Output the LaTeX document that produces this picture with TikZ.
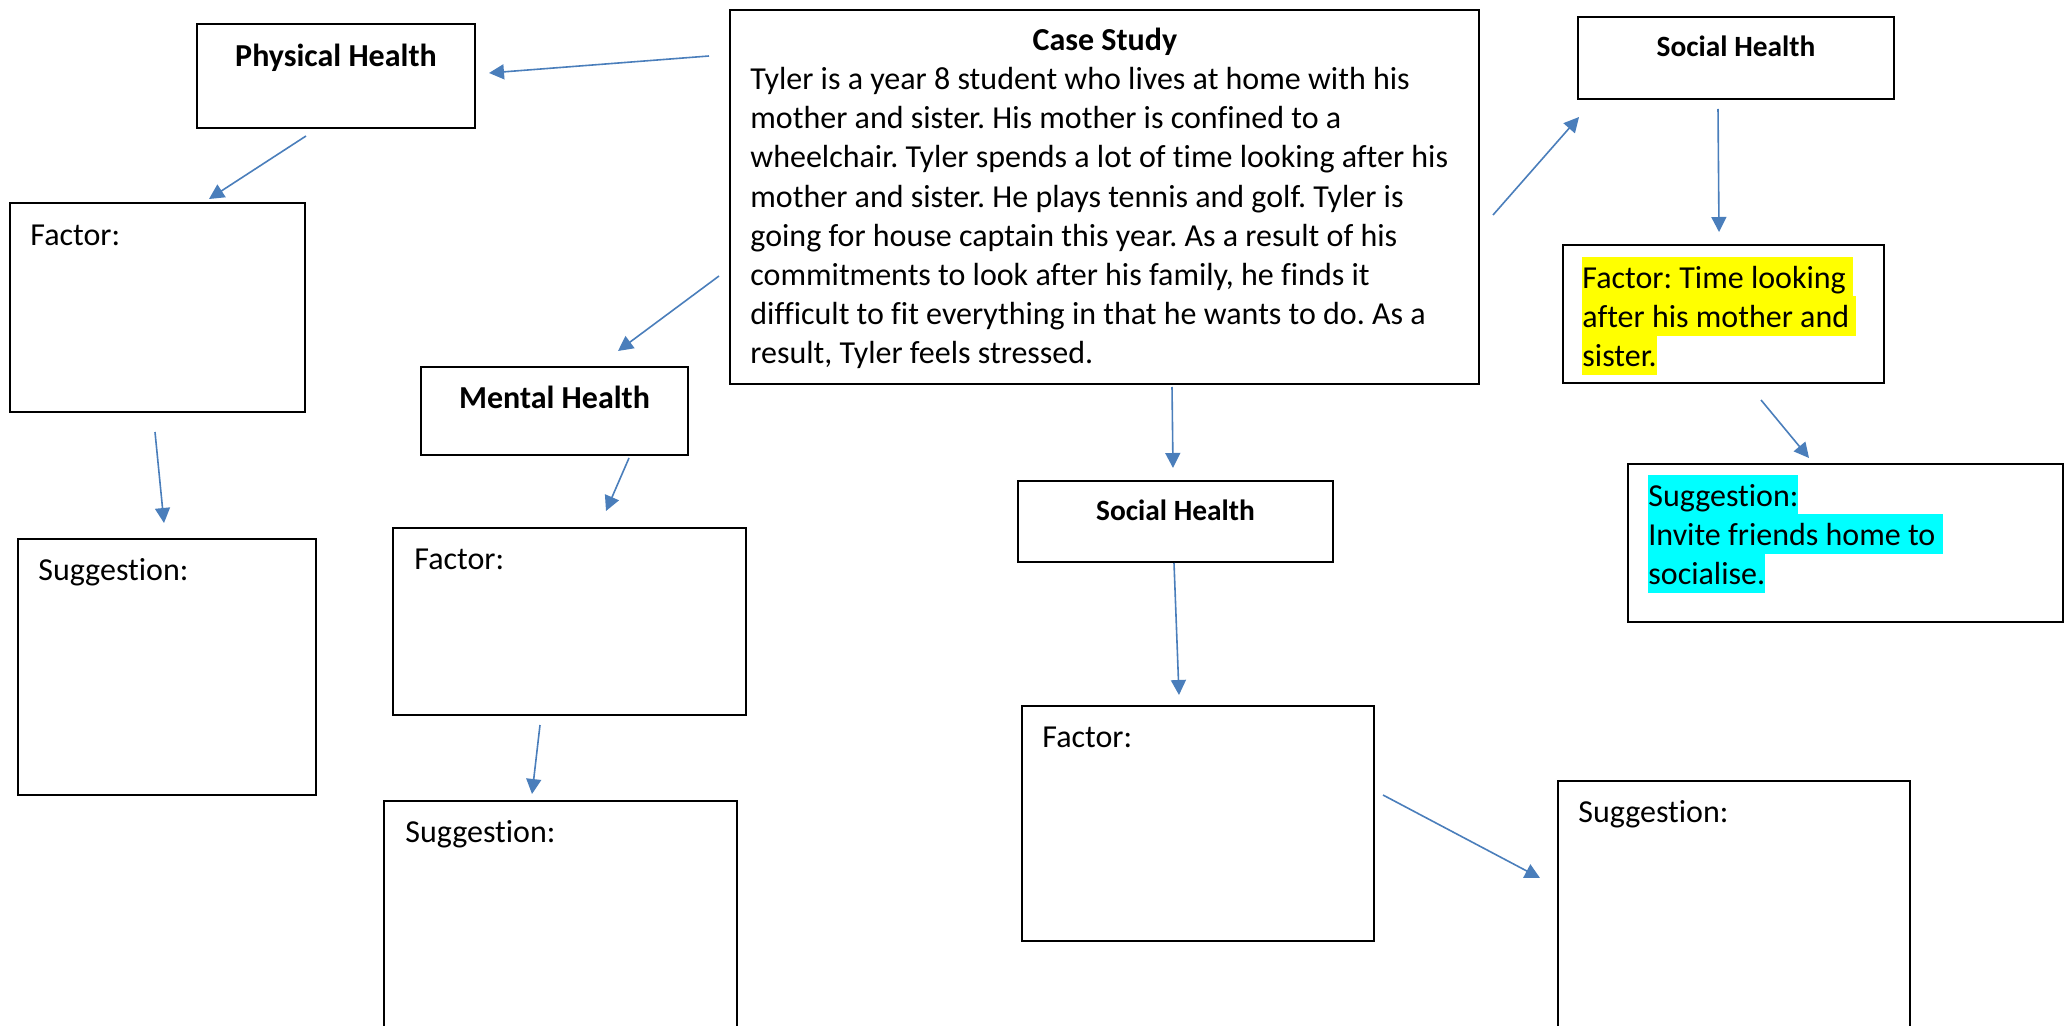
\documentclass[tikz,border=0pt]{standalone}
\usepackage{fontspec}
\setmainfont{Carlito}[Ligatures={NoCommon,NoRare}]
\frenchspacing
\usetikzlibrary{arrows.meta}
\definecolor{arrowblue}{HTML}{4A7EBB}
\definecolor{hlyellow}{HTML}{FFFF00}
\definecolor{hlcyan}{HTML}{00FFFF}
\newcommand{\fstrut}{\rule{0pt}{20.5pt}}
\newcommand{\hlline}[2]{{\setlength{\fboxsep}{0pt}\colorbox{#1}{\rule[-4pt]{0pt}{19.6pt}#2}}}

\begin{document}
\begin{tikzpicture}[x=0.5pt,y=-0.5pt,
	box/.style 2 args={draw,line width=1pt,inner sep=0pt,outer sep=0pt,anchor=north west,
		minimum width=#1*0.5pt,minimum height=#2*0.5pt},
	txt/.style={inner sep=0pt,anchor=north west,align=left,font=\fontsize{16}{19.6}\selectfont},
	head/.style={inner sep=0pt,anchor=north,font=\fontsize{16}{19.6}\selectfont\bfseries},
	arr/.style={arrowblue,line width=0.8pt,-{Triangle[length=7.5pt,width=7.5pt]}}]
	\clip (0,0) rectangle (2070,1026);
	\node[box={749}{374}] (case) at (730,10) {};
	\node[box={278}{104}] (ph) at (197,24) {};
	\node[box={295}{209}] (phf) at (10,203) {};
	\node[box={298}{256}] (phs) at (18,539) {};
	\node[box={267}{88}] (mh) at (421,367) {};
	\node[box={353}{187}] (mhf) at (393,528) {};
	\node[box={353}{400}] (mhs) at (384,801) {};
	\node[box={315}{81}] (shm) at (1018,481) {};
	\node[box={352}{235}] (shmf) at (1022,706) {};
	\node[box={352}{400}] (shms) at (1558,781) {};
	\node[box={316}{82}] (sht) at (1578,17) {};
	\node[box={321}{138}] (shtf) at (1563,245) {};
	\node[box={435}{158}] (shts) at (1628,464) {};

	\node[txt] (casetxt) at ([xshift=10pt]case.north west) {\rule{0pt}{20pt}\makebox[354.5pt]{\bfseries Case Study}\\
		Tyler is a year 8 student who lives at home with his\\
		mother and sister. His mother is confined to a\\
		wheelchair. Tyler spends a lot of time looking after his\\
		mother and sister. He plays tennis and golf. Tyler is\\
		going for house captain this year. As a result of his\\
		commitments to look after his family, he finds it\\
		difficult to fit everything in that he wants to do. As a\\
		result, Tyler feels stressed.};
	\node[head] (phtxt) at (ph.north) {\rule{0pt}{21pt}Physical Health};
	\node[txt] (phftxt) at ([xshift=10pt]phf.north west) {\rule{0pt}{21pt}Factor:};
	\node[txt] (phstxt) at ([xshift=10pt]phs.north west) {\fstrut Suggestion:};
	\node[head] (mhtxt) at (mh.north) {\fstrut Mental Health};
	\node[txt] (mhftxt) at ([xshift=10.5pt]mhf.north west) {\fstrut Factor:};
	\node[txt] (mhstxt) at ([xshift=10.5pt]mhs.north west) {\fstrut Suggestion:};
	\node[head,font=\fontsize{14.7}{18}\selectfont\bfseries] (shmtxt) at (shm.north) {\rule{0pt}{19.75pt}Social Health};
	\node[txt] (shmftxt) at ([xshift=10pt]shmf.north west) {\rule{0pt}{20.3pt}Factor:};
	\node[txt] (shmstxt) at ([xshift=10pt]shms.north west) {\fstrut Suggestion:};
	\node[head,font=\fontsize{14.7}{18}\selectfont\bfseries] (shttxt) at (sht.north) {\rule{0pt}{19.5pt}Social Health};
	\node[txt] (shtftxt) at ([shift={(9.5pt,-5.9pt)}]shtf.north west) {\hlline{hlyellow}{Factor: Time looking\ }\\
		\hlline{hlyellow}{after his mother and\ }\\
		\hlline{hlyellow}{sister.}};
	\node[txt] (shtstxt) at ([shift={(10pt,-5.4pt)}]shts.north west) {\hlline{hlcyan}{Suggestion:}\\
		\hlline{hlcyan}{Invite friends home to\ }\\
		\hlline{hlcyan}{socialise.}};

	\draw[arr] ([shift={(-21,46)}]case.north west) -- ([shift={(14,49)}]ph.north east);
	\draw[arr] ([shift={(109,8)}]ph.south west) -- ([shift={(199,-4)}]phf.north west);
	\draw[arr] ([shift={(145,20)}]phf.south west) -- ([shift={(146,-16)}]phs.north west);
	\draw[arr] ([shift={(-11,266)}]case.north west) -- ([shift={(197,-16)}]mh.north west);
	\draw[arr] ([shift={(208,3)}]mh.south west) -- ([shift={(213,-17)}]mhf.north west);
	\draw[arr] ([shift={(147,10)}]mhf.south west) -- ([shift={(148,-7)}]mhs.north west);
	\draw[arr] ([shift={(442,3)}]case.south west) -- ([shift={(155,-13)}]shm.north west);
	\draw[arr] ([shift={(156,1)}]shm.south west) -- ([shift={(157,-11)}]shmf.north west);
	\draw[arr] ([shift={(9,89)}]shmf.north east) -- ([shift={(-18,97)}]shms.north west);
	\draw[arr] ([shift={(14,205)}]case.north east) -- ([shift={(1,18)}]sht.south west);
	\draw[arr] ([shift={(140,10)}]sht.south west) -- ([shift={(156,-13)}]shtf.north west);
	\draw[arr] ([shift={(198,17)}]shtf.south west) -- ([shift={(181,-6)}]shts.north west);
\end{tikzpicture}
\end{document}
